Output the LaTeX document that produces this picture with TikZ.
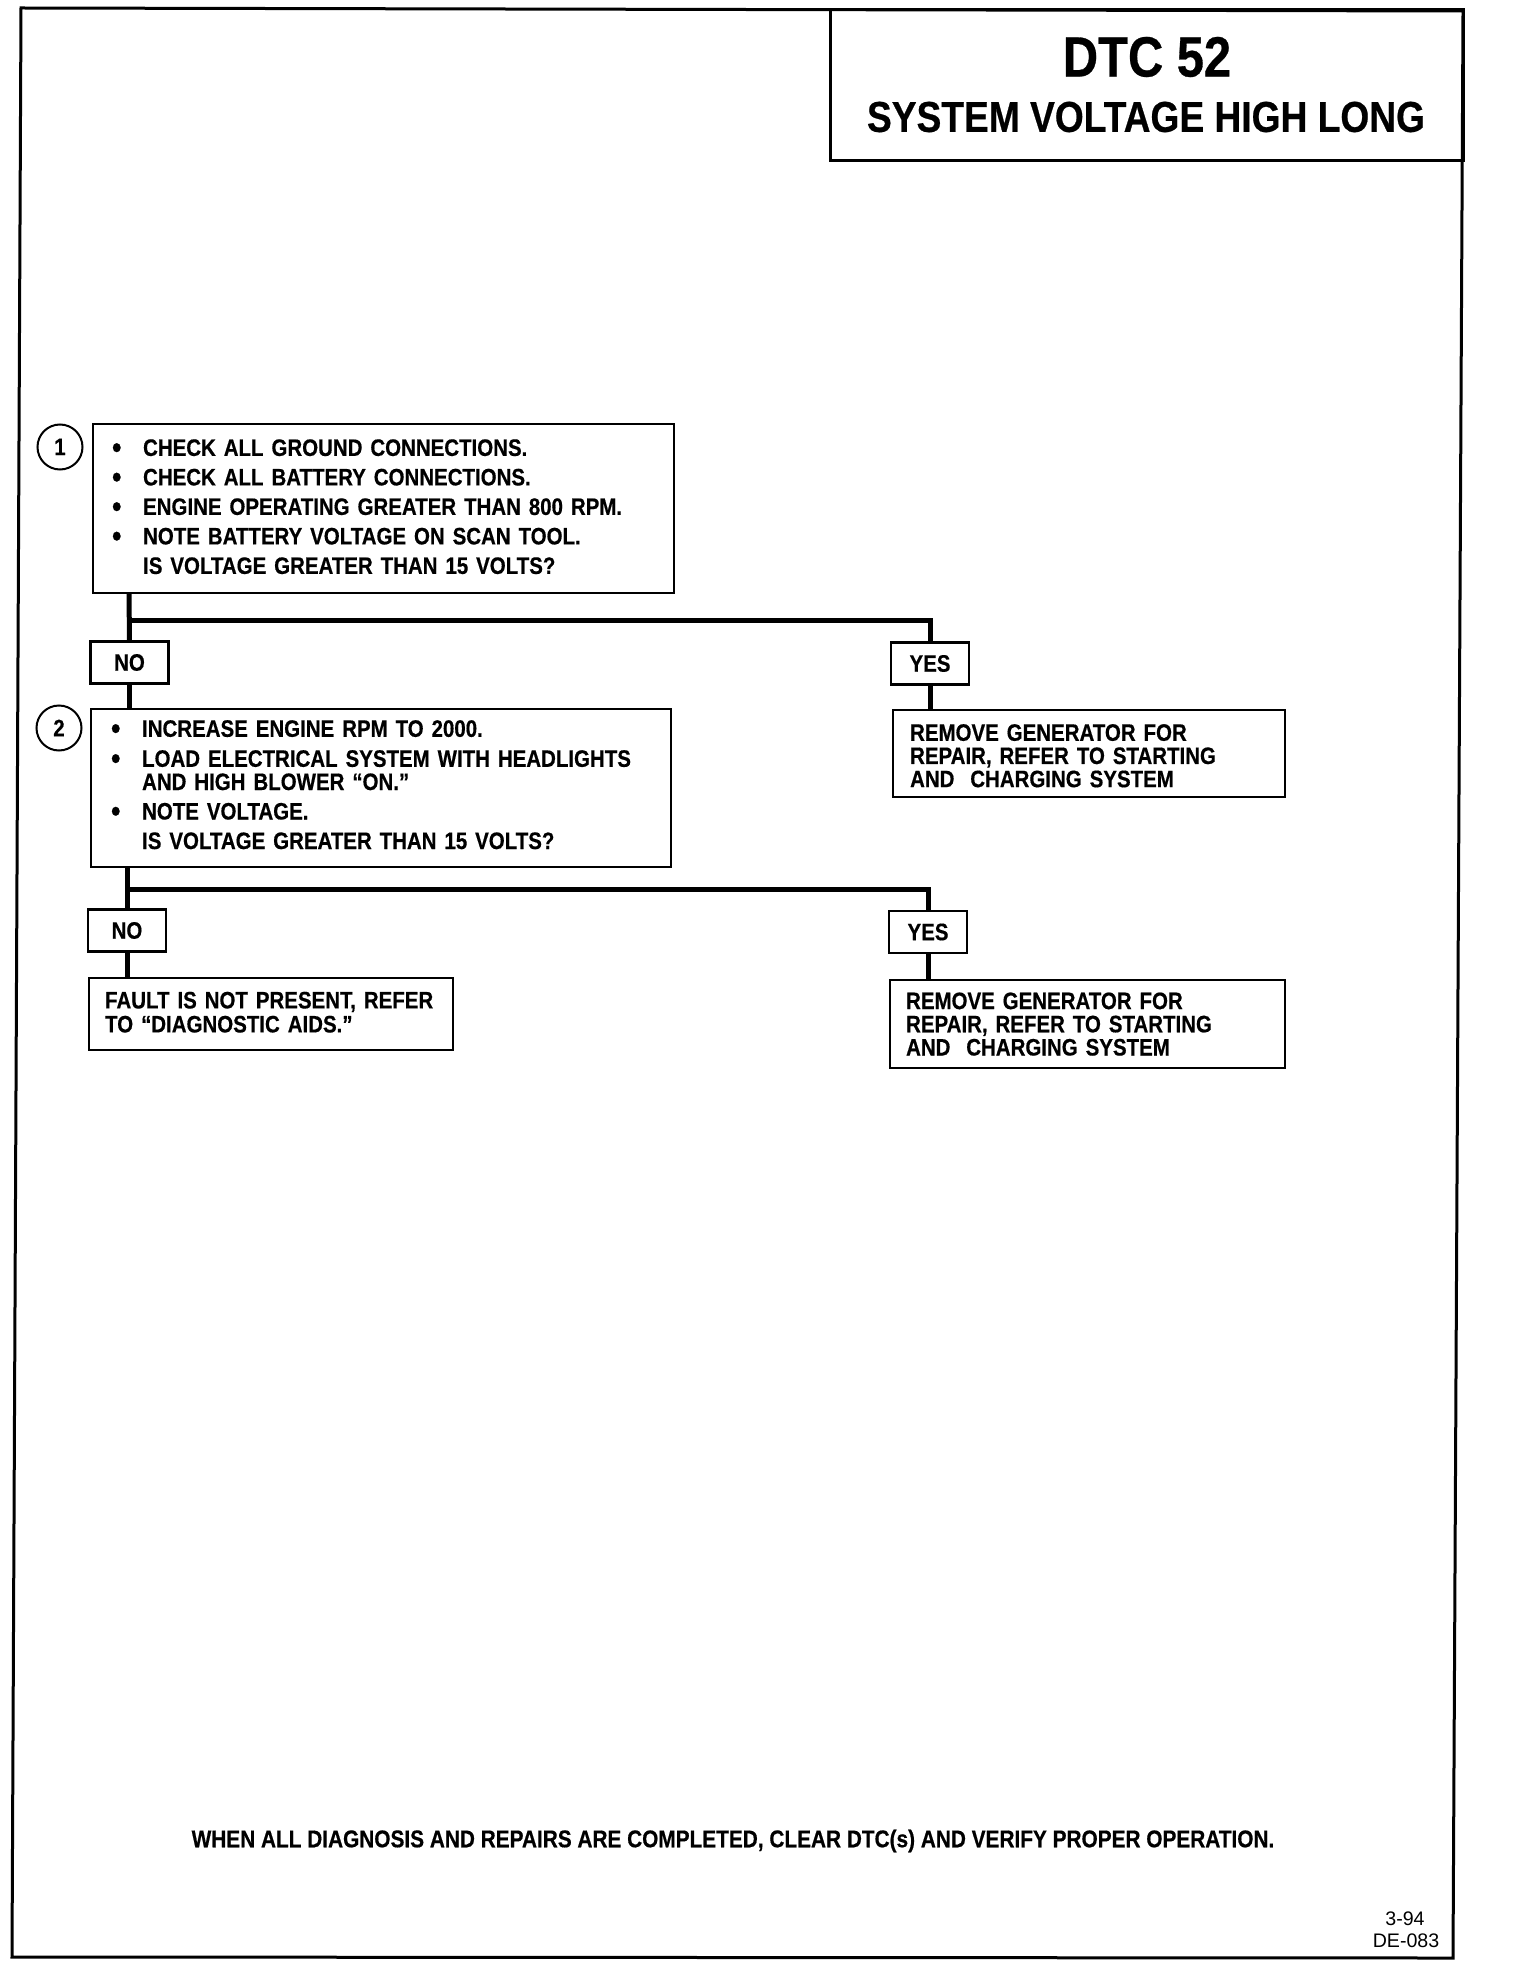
\documentclass[tikz,border=0pt]{standalone}
\usepackage{fontspec}
\setmainfont{Liberation Sans}
\newfontfamily\cond{Liberation Sans}[FakeStretch=0.86,BoldFeatures={FakeBold=0.5}]
\newcommand{\bul}{\makebox[15.5pt][l]{\raisebox{-1pt}{\fontsize{15.5}{15}\selectfont\textbullet}}}
\newcommand{\ind}{\hspace*{15.5pt}}
\newcommand{\lowstrut}[1]{\rule[-#1]{0pt}{#1}}
\begin{document}
\begin{tikzpicture}[x=0.5pt,y=-0.5pt,
  txt/.style={font=\cond\bfseries\fontsize{11.9}{11.6}\selectfont},
  frame/.style={line width=1.5pt},
  box/.style={draw,line width=1.1pt,anchor=north west,align=left,inner ysep=0pt,txt},
  lbl/.style={draw,line width=1.1pt,minimum width=39pt,minimum height=21pt,inner sep=0pt,txt},
  circ/.style={draw,circle,line width=1pt,minimum size=22.5pt,inner sep=0pt,txt},
  conn/.style={line width=2.5pt}]
\useasboundingbox (0,0) rectangle (1520,1968);
% page frame
\draw[frame] (21,8) -- (1463,11) -- (1453,1958) -- (12,1957) -- cycle;
% header
\draw[frame] (830,10) rectangle (1463,161);
\node (t1) at (1147,57) {\cond\bfseries\fontsize{28.4}{30}\selectfont DTC 52};
\node (t2) at (1146,117) {\cond\bfseries\fontsize{21.6}{24}\selectfont SYSTEM VOLTAGE HIGH LONG};
% step 1
\node[circ] (c1) at (60,447) {1};
\node[box,minimum width=290.5pt,minimum height=84.5pt,text width=271.5pt,inner xsep=9.5pt] (box1) at (92,423)
 {\bul CHECK ALL GROUND CONNECTIONS.\\[3.15pt]
  \bul CHECK ALL BATTERY CONNECTIONS.\\[3.15pt]
  \bul ENGINE OPERATING GREATER THAN 800 RPM.\\[3.15pt]
  \bul NOTE BATTERY VOLTAGE ON SCAN TOOL.\\[3.15pt]
  \ind IS VOLTAGE GREATER THAN 15 VOLTS?\lowstrut{2pt}};
\node[lbl] (no1) at (129.5,662.5) {NO};
\node[lbl] (yes1) at (930,663.5) {YES};
\node[box,minimum width=196pt,minimum height=43.5pt,text width=179pt,inner xsep=8.5pt] (res1) at (892,709)
 {\rule{0pt}{10.5pt}REMOVE GENERATOR FOR\\
  REPAIR, REFER TO STARTING\\
  AND\ \ CHARGING SYSTEM};
% step 2
\node[circ] (c2) at (59,728) {2};
\node[box,minimum width=290pt,minimum height=79pt,text width=270pt,inner xsep=10pt] (box2) at (90,708)
 {\bul INCREASE ENGINE RPM TO 2000.\\[3.4pt]
  \bul LOAD ELECTRICAL SYSTEM WITH HEADLIGHTS\\
  \ind AND HIGH BLOWER “ON.”\\[3.15pt]
  \bul NOTE VOLTAGE.\\[3.15pt]
  \ind IS VOLTAGE GREATER THAN 15 VOLTS?\lowstrut{3.5pt}};
\node[lbl] (no2) at (127,930.5) {NO};
\node[lbl] (yes2) at (928,932) {YES};
\node[box,minimum width=182pt,minimum height=36pt,text width=166pt,inner xsep=8pt] (fault) at (88,977)
 {\mbox{FAULT IS NOT PRESENT, REFER}\\[0.4pt]
  \mbox{TO “DIAGNOSTIC AIDS.”}\lowstrut{2pt}};
\node[box,minimum width=197.5pt,minimum height=44pt,text width=181.5pt,inner xsep=8pt] (res2) at (889,979)
 {REMOVE GENERATOR FOR\\
  REPAIR, REFER TO STARTING\\
  AND\ \ CHARGING SYSTEM};
% connectors
\coordinate (j1) at (129,620);
\draw[conn] (j1 |- box1.south) -- (no1.north);
\draw[conn] (j1) -| (yes1.north);
\draw[conn] (no1.south) -- (no1.south |- box2.north);
\draw[conn] (yes1.south) -- (yes1.south |- res1.north);
\coordinate (j2) at (127,889);
\draw[conn] (j2 |- box2.south) -- (no2.north);
\draw[conn] (j2) -| (yes2.north);
\draw[conn] (no2.south) -- (no2.south |- fault.north);
\draw[conn] (yes2.south) -- (yes2.south |- res2.north);
% notes
\node[font=\cond\bfseries\fontsize{12.1}{12}\selectfont] (note) at (733,1841) {WHEN ALL DIAGNOSIS AND REPAIRS ARE COMPLETED, CLEAR DTC(s) AND VERIFY PROPER OPERATION.};
\node[font=\fontsize{9.8}{11}\selectfont] (f1) at (1405,1919) {3-94};
\node[font=\fontsize{9.8}{11}\selectfont] (f2) at (1406,1941) {DE-083};
\end{tikzpicture}
\end{document}
